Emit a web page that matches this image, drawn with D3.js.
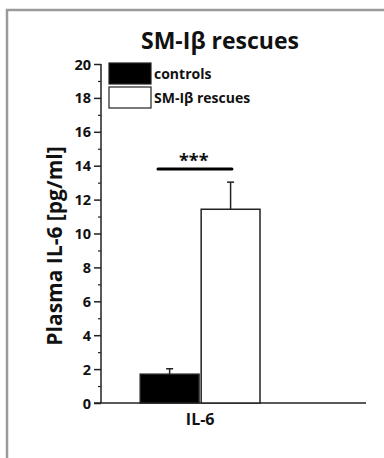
<!DOCTYPE html>
<html>
<head>
<meta charset="utf-8">
<script src="https://cdn.jsdelivr.net/npm/d3@7"></script>
<style>
  body { margin: 0; background: #fff; }
  svg { display: block; }
  text { font-family: "Open Sans", "Noto Sans", sans-serif; font-weight: bold; fill: #111; }
</style>
</head>
<body>
<div id="chart"></div>
<script>
// data
const groups = ["controls", "SM-Iβ rescues"];
const means = [1.7, 11.43];
const errors = [0.32, 1.6];
const fills = ["#000", "#fff"];
const yTicks = [0, 2, 4, 6, 8, 10, 12, 14, 16, 18, 20];
const category = "IL-6";

const width = 384, height = 458;
const margin = { top: 64, right: 18, bottom: 55, left: 101 };
const innerH = height - margin.top - margin.bottom;

const svg = d3.select("#chart").append("svg")
    .attr("width", width)
    .attr("height", height);

// gray frame
svg.append("path")
    .attr("d", `M7,${height} V10 H${width}`)
    .attr("fill", "none")
    .attr("stroke", "#9a9a9a")
    .attr("stroke-width", 2.5);

svg.append("text")
    .attr("x", 220)
    .attr("y", 49)
    .attr("text-anchor", "middle")
    .style("font-size", "23px")
    .text("SM-Iβ rescues");

const g = svg.append("g").attr("transform", `translate(${margin.left},${margin.top})`);

const y = d3.scaleLinear().domain([0, 20]).range([innerH, 0]);
// x positions in data space: bars sit left of center
const x = d3.scaleLinear().domain([0, 1]).range([0, 265]);
const barX = [0.148, 0.378];
const barW = 0.222;

// minor ticks
g.append("g")
    .call(d3.axisLeft(y).tickValues(d3.range(1, 20, 2)).tickSize(3).tickFormat(""))
    .call(a => a.select(".domain").remove())
    .selectAll("line").attr("stroke", "#222").attr("stroke-width", 1.2);

const yAxis = g.append("g")
    .call(d3.axisLeft(y).tickValues(yTicks).tickSize(7).tickPadding(3).tickFormat(d3.format("d")));
yAxis.select(".domain").attr("stroke", "#222").attr("stroke-width", 1.5).attr("d", `M0,0V${innerH}`);
yAxis.selectAll("line").attr("stroke", "#222").attr("stroke-width", 1.5);
yAxis.selectAll("text")
    .style("font-size", "14.5px")
    .style("font-family", "'Open Sans', sans-serif")
    .style("font-weight", "bold")
    .attr("fill", "#111")
    .attr("dy", "0.35em");

// x axis line
g.append("line")
    .attr("x1", -7).attr("x2", x(1))
    .attr("y1", y(0)).attr("y2", y(0))
    .attr("stroke", "#222").attr("stroke-width", 1.5);

// error bars
groups.forEach((grp, i) => {
    const cx = x(barX[i] + barW / 2);
    g.append("line")
        .attr("x1", cx).attr("x2", cx)
        .attr("y1", y(means[i])).attr("y2", y(means[i] + errors[i]))
        .attr("stroke", "#222").attr("stroke-width", 1.5);
    g.append("line")
        .attr("x1", cx - 3.5).attr("x2", cx + 3.5)
        .attr("y1", y(means[i] + errors[i])).attr("y2", y(means[i] + errors[i]))
        .attr("stroke", "#222").attr("stroke-width", 1.5);
});

// bars
g.selectAll("rect.bar")
    .data(groups)
    .join("rect")
    .attr("class", "bar")
    .attr("x", (d, i) => x(barX[i]))
    .attr("y", (d, i) => y(means[i]))
    .attr("width", x(barW) - x(0))
    .attr("height", (d, i) => y(0) - y(means[i]))
    .attr("fill", (d, i) => fills[i])
    .attr("stroke", "#222")
    .attr("stroke-width", 1.5);

// category label
g.append("text")
    .attr("x", x(barX[1]) - 1)
    .attr("y", y(0) + 22)
    .attr("text-anchor", "middle")
    .style("font-size", "16px")
    .text(category);

// significance bar
g.append("line")
    .attr("x1", x(0.215)).attr("x2", x(0.494))
    .attr("y1", y(13.8)).attr("y2", y(13.8))
    .attr("stroke", "#000").attr("stroke-width", 3)
    .attr("stroke-linecap", "round");
g.append("text")
    .attr("x", x(0.35))
    .attr("y", y(13.8) - 2)
    .attr("text-anchor", "middle")
    .style("font-size", "18px")
    .text("***");

// y label
g.append("text")
    .attr("transform", `translate(-39,${246 - margin.top}) rotate(-90)`)
    .attr("text-anchor", "middle")
    .style("font-size", "21px")
    .text("Plasma IL-6 [pg/ml]");

// legend
const legend = svg.append("g").attr("transform", "translate(109,63)");
groups.forEach((grp, i) => {
    legend.append("rect")
        .attr("x", 0).attr("y", i * 24)
        .attr("width", 42).attr("height", 21)
        .attr("fill", fills[i])
        .attr("stroke", "#222").attr("stroke-width", 1.2);
    legend.append("text")
        .attr("x", 45).attr("y", i * 24 + 16)
        .style("font-size", "14px")
        .text(grp);
});
</script>
</body>
</html>
